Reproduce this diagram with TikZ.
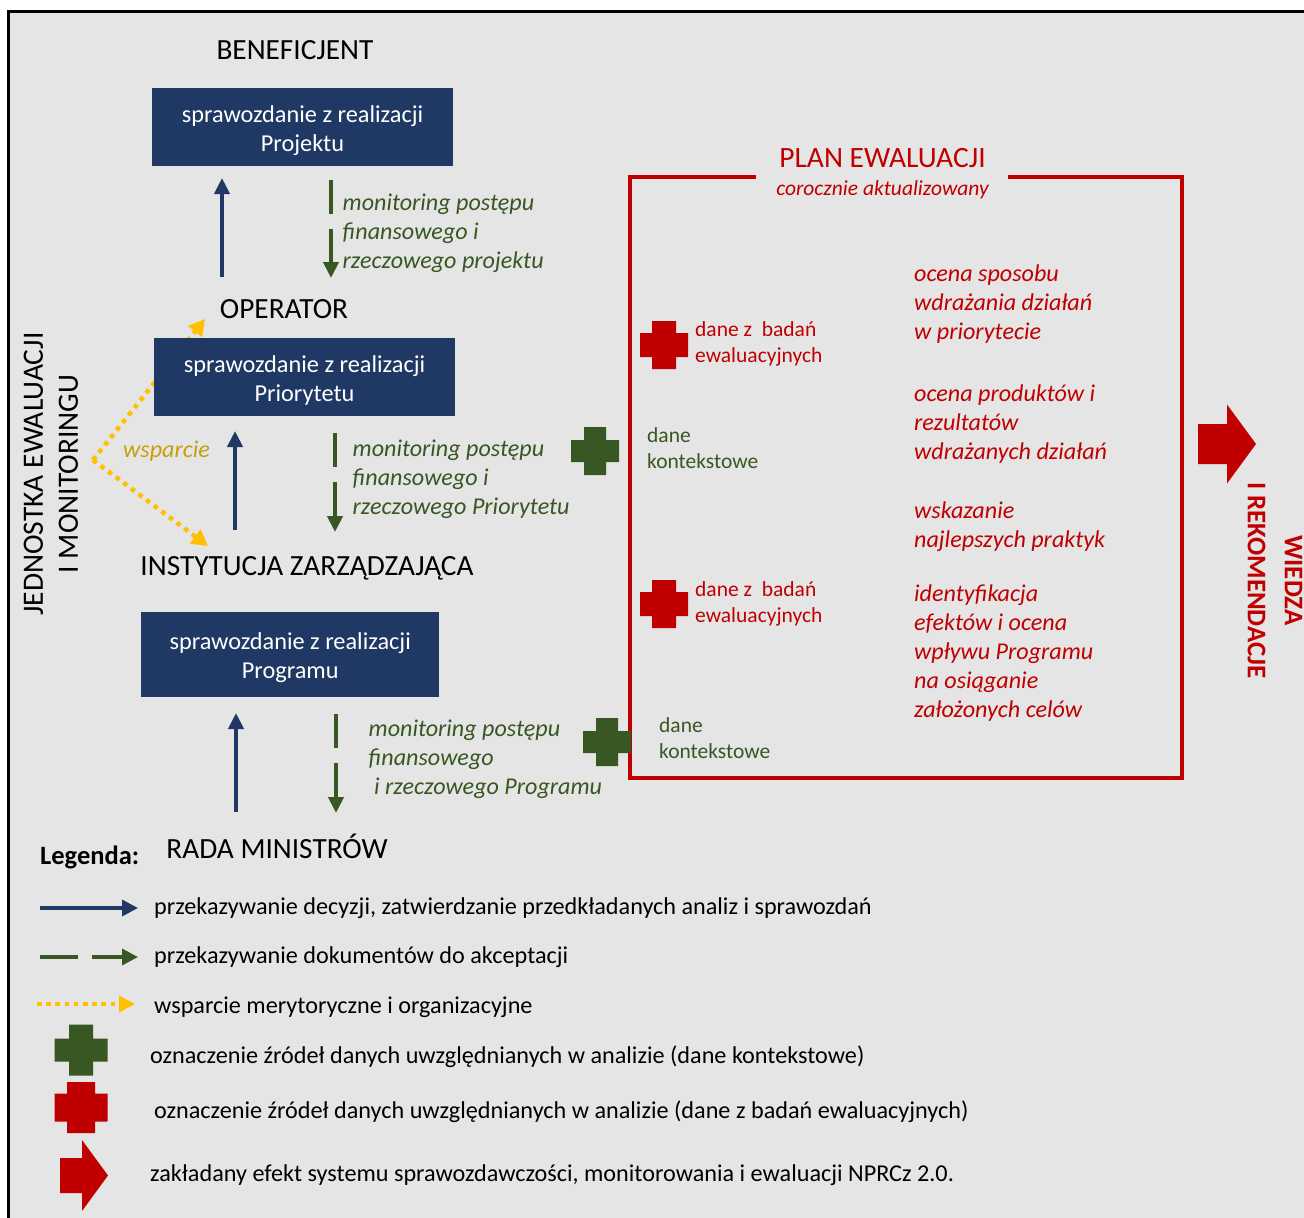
\documentclass[tikz,border=0pt]{standalone}
\usepackage{fontspec}
\setmainfont{Carlito}
\usetikzlibrary{arrows.meta}
\definecolor{navy}{HTML}{1F3864}
\definecolor{dgreen}{HTML}{385723}
\definecolor{dred}{HTML}{C00000}
\definecolor{yel}{HTML}{FFC000}
\definecolor{dyel}{HTML}{C79F0C}
\definecolor{bg}{HTML}{E5E5E5}
\newcommand{\fs}[2]{\fontsize{#1}{#2}\selectfont}
\newcommand{\topstrut}{\rule{0pt}{23.7pt}}
\newcommand{\crossmark}[7]{% cx cy halfw halfh armhalfw armhalfh colour
  \fill[#7] (#1-#5,#2-#4) -- (#1+#5,#2-#4) -- (#1+#5,#2-#6) -- (#1+#3,#2-#6) -- (#1+#3,#2+#6) -- (#1+#5,#2+#6) -- (#1+#5,#2+#4) -- (#1-#5,#2+#4) -- (#1-#5,#2+#6) -- (#1-#3,#2+#6) -- (#1-#3,#2-#6) -- (#1-#5,#2-#6) -- cycle;}
\newcommand{\bigarrow}[7]{% x0 xneck xtip cy bodyhalf winghalf colour
  \fill[#7] (#1,#4-#5) -- (#2,#4-#5) -- (#2,#4-#6) -- (#3,#4) -- (#2,#4+#6) -- (#2,#4+#5) -- (#1,#4+#5) -- cycle;}
\tikzset{
  x=1pt,y=-1pt,
  box/.style={fill=navy,text=white,align=center,inner sep=0pt,minimum width=301pt,minimum height=78pt,font=\fs{24.3}{29}},
  head/.style={text=black,inner sep=0pt,font=\fs{29.3}{32}},
  mon/.style={text=dgreen,align=left,anchor=west,inner sep=0pt,font=\fs{24.1}{29}\itshape},
  ocena/.style={text=dred,align=left,anchor=west,inner sep=0pt,font=\fs{24.1}{29}\itshape},
  small/.style={align=left,anchor=west,inner sep=0pt,font=\fs{21.5}{26}},
  leg/.style={text=black,anchor=west,inner sep=0pt,font=\fs{24.2}{26}},
  bluearr/.style={draw=navy,line width=4pt,-{Triangle[length=16pt,width=15pt]}},
  greenarr/.style={draw=dgreen,line width=4pt,dash pattern=on 34pt off 15pt,-{Triangle[length=16pt,width=15pt]}},
  yelarr/.style={draw=yel,line width=4.5pt,dash pattern=on 4.5pt off 5pt,-{Triangle[length=16pt,width=17pt]}},
}
\begin{document}
\begin{tikzpicture}
\useasboundingbox (0,0) rectangle (1304,1218);
\clip (0,0) rectangle (1304,1218);
\fill[white] (0,0) rectangle (1304,1218);
\draw[black,line width=3pt,fill=bg] (8,11.5) rectangle (1320,1240);
% free ends
\coordinate (fork) at (93,460);
\coordinate (yt1) at (205,319);
\coordinate (yt2) at (208,546);
% yellow behind the box
\draw[yelarr] (fork) -- (yt1);
\draw[yelarr] (fork) -- (yt2);
% boxes
\node[box] (b1) at (302.5,127) {\topstrut sprawozdanie z realizacji\\Projektu};
\node[box] (b2) at (304.5,377) {\topstrut sprawozdanie z realizacji\\Priorytetu};
\node[box,minimum width=298.5pt,minimum height=85pt] (b3) at (290.2,654) {\topstrut sprawozdanie z realizacji\\Programu};
% heads
\node[head] (benef) at (295,50) {BENEFICJENT};
\node[head] (oper) at (284,309) {OPERATOR};
\node[head] (iz) at (307,568) {INSTYTUCJA ZARZĄDZAJĄCA};
\node[head] (rm) at (277,846) {RADA MINISTRÓW};
\node[text=black,align=center,rotate=90,inner sep=0pt,font=\fs{29.5}{35}] (jed) at (51,474) {JEDNOSTKA EWALUACJI\\I MONITORINGU};
\node[text=dyel,anchor=west,inner sep=0pt,font=\fs{24.1}{29}\itshape] (wsp) at (123,451) {wsparcie};
% arrows
\coordinate (a1s) at (222,277); \coordinate (a1e) at (222,178);
\coordinate (a2s) at (235,530); \coordinate (a2e) at (235,431);
\coordinate (a3s) at (236,812); \coordinate (a3e) at (236,713);
\coordinate (g1s) at (331,180); \coordinate (g1e) at (331,278);
\coordinate (g2s) at (335,433); \coordinate (g2e) at (335,532);
\coordinate (g3s) at (336,714); \coordinate (g3e) at (336,813);
\draw[bluearr] (a1s) -- (a1e);
\draw[bluearr] (a2s) -- (a2e);
\draw[bluearr] (a3s) -- (a3e);
\draw[greenarr] (g1s) -- (g1e);
\draw[greenarr] (g2s) -- (g2e);
\draw[greenarr] (g3s) -- (g3e);
% monitoring labels
\node[mon] (m1) at (342.5,233.5) {monitoring postępu\\finansowego i\\rzeczowego projektu};
\node[mon] (m2) at (352.5,479) {monitoring postępu\\finansowego i\\rzeczowego Priorytetu};
\node[mon] (m3) at (368.5,759) {monitoring postępu\\finansowego\\\ i rzeczowego Programu};
% plan
\draw[dred,line width=4pt] (756,177) -- (629.5,177) -- (629.5,778) -- (1181.5,778) -- (1181.5,177) -- (1008,177);
\node[text=dred,inner sep=0pt,font=\fs{29.5}{32}] (plan) at (882.5,158) {PLAN EWALUACJI};
\node[text=dred,inner sep=0pt,font=\fs{21.5}{26}\itshape] (cor) at (882.5,190) {corocznie aktualizowany};
% crosses
\crossmark{595}{451}{24}{24}{11}{11}{dgreen}
\crossmark{607}{742}{24}{24}{11}{11}{dgreen}
\crossmark{664}{345}{24}{24}{12}{12}{dred}
\crossmark{664}{604}{24}{24}{12}{12}{dred}
\node[small,text=dred] (d1) at (695,344) {dane z \ badań\\ewaluacyjnych};
\node[small,text=dred] (d2) at (695,603.5) {dane z \ badań\\ewaluacyjnych};
\node[small,text=dgreen] (k1) at (647,448) {dane\\kontekstowe};
\node[small,text=dgreen] (k2) at (659,738) {dane\\kontekstowe};
\node[ocena] (o1) at (914,304) {ocena sposobu\\wdrażania działań\\w priorytecie};
\node[ocena] (o2) at (914,424) {ocena produktów i\\rezultatów\\wdrażanych działań};
\node[ocena] (o3) at (914,527) {wskazanie\\najlepszych praktyk};
\node[ocena] (o4) at (914,653) {identyfikacja\\efektów i ocena\\wpływu Programu\\na osiąganie\\założonych celów};
\bigarrow{1198}{1227}{1256}{444}{20}{39.5}{dred}
\node[text=dred,align=center,rotate=-90,inner sep=0pt,font=\fs{26.9}{37}] (wiedza) at (1275,580.5) {\textbf{WIEDZA}\\\textbf{I REKOMENDACJE}};
% legend
\node[anchor=west,inner sep=0pt,font=\fs{26.5}{28}\bfseries] (lg) at (40,857) {Legenda:};
\coordinate (l1a) at (40,908); \coordinate (l1b) at (138,908);
\coordinate (l2a) at (40,957); \coordinate (l2b) at (138,957);
\coordinate (l3a) at (37,1004); \coordinate (l3b) at (135,1004);
\draw[draw=navy,line width=3.5pt,-{Triangle[length=16pt,width=16pt]}] (l1a) -- (l1b);
\draw[draw=dgreen,line width=3.5pt,dash pattern=on 38pt off 14pt,-{Triangle[length=16pt,width=16pt]}] (l2a) -- (l2b);
\draw[draw=yel,line width=4pt,dash pattern=on 4.5pt off 4.7pt,-{Triangle[length=16pt,width=16pt]}] (l3a) -- (l3b);
\crossmark{81}{1050}{26.5}{25.5}{12}{11.5}{dgreen}
\crossmark{81}{1107.5}{26.5}{25.5}{14}{14}{dred}
\bigarrow{60}{82}{108}{1175.5}{17.5}{35.5}{dred}
\node[leg] (t1) at (154,908) {przekazywanie decyzji, zatwierdzanie przedkładanych analiz i sprawozdań};
\node[leg] (t2) at (154,957) {przekazywanie dokumentów do akceptacji};
\node[leg] (t3) at (154,1007) {wsparcie merytoryczne i organizacyjne};
\node[leg] (t4) at (150,1057) {oznaczenie źródeł danych uwzględnianych w analizie (dane kontekstowe)};
\node[leg] (t5) at (154,1112) {oznaczenie źródeł danych uwzględnianych w analizie (dane z badań ewaluacyjnych)};
\node[leg] (t6) at (150,1175) {zakładany efekt systemu sprawozdawczości, monitorowania i ewaluacji NPRCz 2.0.};
\end{tikzpicture}
\end{document}
